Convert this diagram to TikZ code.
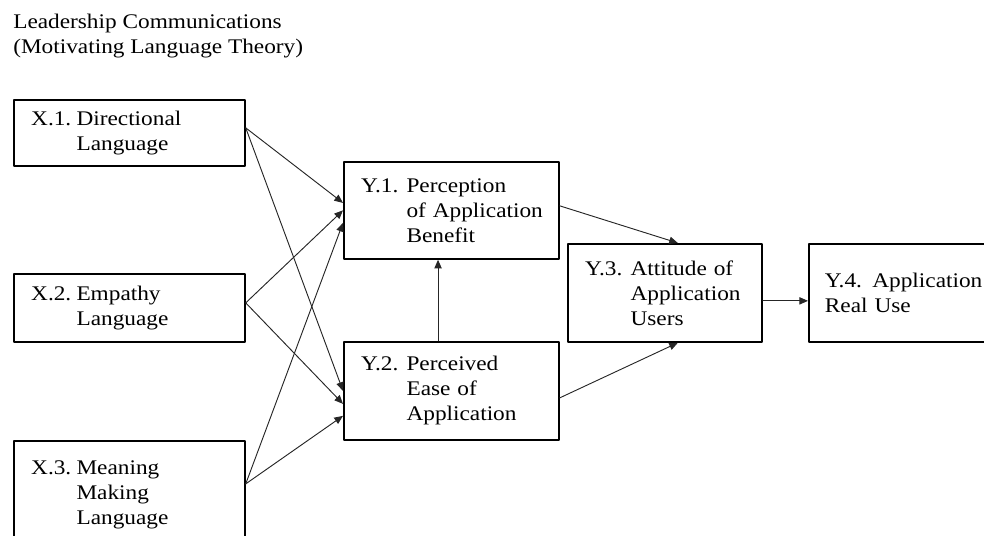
\documentclass[tikz,border=0pt]{standalone}
\usepackage{fontspec}
\setmainfont{Liberation Serif}[FakeStretch=1.12]
\usetikzlibrary{arrows.meta}

\tikzset{
  varbox/.style={draw, line width=1.3pt, anchor=north west, inner xsep=13pt,
    inner ysep=0pt, align=left, font=\fontsize{15.6pt}{18.75pt}\selectfont},
  link/.style={line width=0.7pt, draw=black!85, -{Triangle[length=6.5pt,width=5.5pt]}}
}

\begin{document}
\begin{tikzpicture}[x=0.75pt,y=-0.75pt, line cap=round, line join=round]

\path[use as bounding box, clip] (0,0) rectangle (984,535);

\node[anchor=north west, align=left, inner sep=0pt,
  font=\fontsize{15.6pt}{18.75pt}\selectfont] (title) at (13,14)
  {Leadership Communications\\(Motivating Language Theory)};

% independent variables
\node[varbox, text width=147.25pt, minimum height=49.5pt] (X1) at (13,99)
  {\makebox[34pt][l]{X.1.}Directional\\\hspace*{34pt}Language};
\node[varbox, text width=147.25pt, minimum height=51pt] (X2) at (13,273)
  {\makebox[34pt][l]{X.2.}Empathy\\\hspace*{34pt}Language};
\node[varbox, text width=147.25pt, minimum height=81pt] (X3) at (13,440)
  {\makebox[34pt][l]{X.3.}Meaning\\\hspace*{34pt}Making\\\hspace*{34pt}Language};

% dependent variables
\node[varbox, text width=135.25pt, minimum height=72.75pt] (Y1) at (343,161)
  {\makebox[34pt][l]{Y.1.}Perception\\\hspace*{34pt}\mbox{of Application}\\\hspace*{34pt}Benefit};
\node[varbox, text width=135.25pt, minimum height=73.5pt] (Y2) at (343,341)
  {\makebox[34pt][l]{Y.2.}Perceived\\\hspace*{34pt}Ease of\\\hspace*{34pt}Application};
\node[varbox, text width=119.5pt, minimum height=73.5pt] (Y3) at (567,243)
  {\makebox[34pt][l]{Y.3.}Attitude of\\\hspace*{34pt}Application\\\hspace*{34pt}Users};
\node[varbox, text width=140pt, minimum height=73.5pt, inner xsep=12pt] (Y4) at (808,243)
  {Y.4. Application\\Real Use};

% X -> Y1, Y2
\draw[link] ([yshift=3.75pt]X1.east) -- ([yshift=5.6pt]Y1.west);
\draw[link] ([yshift=3.75pt]X1.east) -- (Y2.west);
\draw[link] ([yshift=3.75pt]X2.east) -- (Y1.west);
\draw[link] ([yshift=3.75pt]X2.east) -- ([yshift=-9.75pt]Y2.west);
\draw[link] ([yshift=8.25pt]X3.east) -- ([yshift=-9.4pt]Y1.west);
\draw[link] ([yshift=8.25pt]X3.east) -- ([yshift=-18.75pt]Y2.west);

% Y -> Y
\draw[link] ([xshift=-10pt]Y2.north) -- ([xshift=-10pt]Y1.south);
\draw[link] ([yshift=3.4pt]Y1.east) -- ([xshift=9.75pt]Y3.north);
\draw[link] ([yshift=-5.25pt]Y2.east) -- ([xshift=9.75pt]Y3.south);
\draw[link] ([yshift=-6pt]Y3.east) -- ([yshift=-6pt]Y4.west);

\end{tikzpicture}
\end{document}
